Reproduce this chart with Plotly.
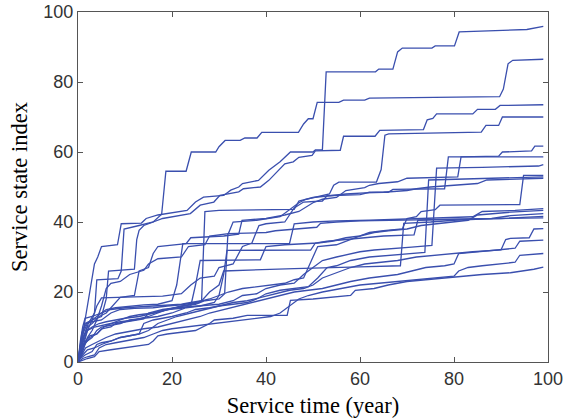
import plotly.graph_objects as go

# Degradation paths: (service time, service state index) breakpoints
path01 = [(0,0),(0.8,5),(1.5,12),(2.5,20),(3.5,28),(4.2,30),(5,33),(8.4,33.5),(9.2,39.5),(13.5,39.7),(14.5,41),(17,42),(21.8,42.9),(23.2,43.3),(25,45.7),(26.7,47.1),(31,47.6),(32.5,49.1),(34.2,50),(35,51),(38.4,51.9),(40.6,54.8),(43,57.2),(44.5,59.1),(45.2,60),(50,60),(50.5,60.6),(52,60.6),(52.8,82.9),(63.3,82.9),(64,83.7),(67,83.7),(68,88.6),(69,89.7),(75.3,89.7),(76,90.3),(80.1,90.3),(81.1,94.3),(95.5,95),(99,95.9)]
path02 = [(0,0),(1,4),(2,9),(3,12),(5,13),(6,18),(6.5,26),(10,26.2),(12,26.5),(12.5,35),(13,37.6),(14,39),(16,40),(17.8,42.2),(18.7,54.5),(23,54.5),(24.1,60),(29.3,60),(30,61.5),(31.3,63.3),(34.5,63.3),(35.5,64),(38.1,64),(39.1,65.6),(46.9,65.6),(48,68),(49,69.5),(50,69.5),(50.9,74.2),(55.5,74.2),(56.5,74.8),(61,74.8),(62,75.4),(89.7,75.8),(90.5,78),(91.5,85.2),(92.5,86.2),(99,86.5)]
path03 = [(0,0),(0.7,4),(1.4,8),(2.2,11),(3.5,14),(4,23.5),(8.5,23.8),(9.2,26),(9.8,38),(13,39),(16,40),(18,41),(21.8,42),(23.9,42.4),(26,44.8),(28.9,45.7),(30.2,47.6),(34.2,48.6),(35.2,49.5),(38.8,50),(40.6,51.9),(43,55.2),(44,56.6),(45.8,57.2),(47,58.5),(49.8,59),(50.5,60.3),(55.8,60.5),(56.5,64.5),(63.2,64.5),(64.2,66.2),(73.5,66.4),(74.3,69.2),(75.5,69.6),(76.3,70.9),(84,70.9),(85,72.2),(88.8,72.2),(89.8,73.3),(99,73.5)]
path04 = [(0,0),(1,3),(2,7),(3,9),(4,12),(5,16),(6,21),(7,22.5),(9,23),(11,25),(14,26.2),(15,28),(17,29.5),(22,30),(23.5,33),(27,33.5),(28,36),(32,36.7),(33,40),(38,40.5),(43,41.5),(44,42.5),(47,45.5),(48.5,46.5),(53.5,48),(54.4,50.5),(55.5,51.4),(63.5,51.4),(64.5,55),(65.3,64.8),(66.1,65.2),(85.8,65.7),(86.8,67.6),(89.5,67.6),(90.3,70),(99,70)]
path05 = [(0,0),(0.5,2),(1.2,7),(2,10),(3,11),(4.5,13),(6,14),(8,17),(9,18.5),(12,19),(13,26),(15,27),(16,31),(17,33),(23,33.8),(24,35.5),(31,36),(34.2,36.5),(34.9,40.5),(40,41),(44,42),(47,43),(50,45.5),(52,46.5),(55,47),(57,49),(61,49.8),(62,50.5),(64,51),(68,51.5),(70,52.5),(80.8,52.9),(81.5,58.6),(89.5,58.8),(90.3,60),(96.5,60.3),(97.2,61.7),(99,61.7)]
path06 = [(0,0),(0.5,5),(1,9),(1.8,11),(3,12),(4,16),(5,18.3),(12,18.6),(18,18.8),(22,19.5),(24,22),(26,24),(29,24.5),(30,27),(33,28),(35,33),(37,34),(38.5,39),(40,39.5),(44,40),(46,44),(48,45.7),(52,46),(53,47.5),(60,47.8),(62,48.5),(66,48.5),(67,49.3),(78,49.5),(78.8,58.6),(99,58.6)]
path07 = [(0,0),(0.8,3),(1.6,6),(2.5,7.5),(4,8),(5,9.5),(7,10),(8,11),(10,11.5),(12,12),(14,12.3),(15,14),(18,15),(21,15.5),(24,15.8),(27,16),(30,16.5),(33,17.5),(35,19),(38,19.5),(40,21),(43,22),(46,22.5),(48,25),(50,27),(52,29),(55,30),(60,31.5),(63,32),(67,32.5),(71,32.8),(75.3,33.3),(76.3,55.4),(86,55.6),(95,55.8),(98,56),(99,56.4)]
path08 = [(0,0),(0.4,4),(1,8),(2,11),(3,11.5),(5,12),(7,14),(9,15),(12,15.3),(16,15.5),(19,16),(22,16.3),(25,17),(28,18),(30,19),(32,20),(35,21),(38,21.5),(40,22),(44,22.5),(46,23.5),(48,24),(50,30),(51,33),(55,33.5),(58,35),(60,36),(62,37),(65,37.5),(69,38),(70,41),(72,41.5),(73,43),(76,43.5),(77,44.8),(94,45),(94.8,53.3),(99,53.3)]
path09 = [(0,0),(0.5,1),(1.5,2),(3,3),(4,5),(5,5.5),(7,6),(9,7),(11,7.5),(13,8),(14,11),(16,12),(18,12.5),(20,13),(23,14),(25,15),(28,15.5),(30,16),(33,16.5),(36,17),(38,18),(40,19.5),(43,20.5),(46,21),(49,21.5),(51,24),(53,27),(55,27.5),(58,29),(62,30),(66,30.5),(70,31),(73.8,31.3),(74.6,52),(85,52.3),(93,52.6),(99,52.9)]
path10 = [(0,0),(0.5,6),(1,10),(1.5,12.5),(3,13),(5,14),(7,15),(10,15.5),(13,15.8),(16,16),(19,16.2),(22,16.5),(24,17),(26.3,17.5),(27,43),(30,43.3),(46,43.6),(47,46),(50,47),(53,47.5),(57,48),(61,48.3),(65,48.5),(70,49),(72,49.5),(75,50),(78,50.3),(82,50.5),(85,51),(87,52),(93,52.3),(99,52.5)]
path11 = [(0,0),(0.3,3),(0.8,8),(1.5,11),(3,12),(4,13),(6,15),(8,15.5),(11,16),(14,16.3),(17,16.5),(20,17.5),(21,22),(22.3,33.8),(45,33.8),(46,39.5),(50,40),(55,40.3),(62,40.5),(68,40.8),(76,41),(84,41.5),(86,43),(93,43.3),(99,43.8)]
path12 = [(0,0),(0.6,2),(1.4,5),(2.5,7),(4,8),(5.5,10),(7,11),(9,11.5),(12,12),(15,13),(17,14),(19,15),(22,15.3),(24,16),(25,22),(26,29),(38.8,29.2),(40,33),(44,33.5),(51,34),(54,34.5),(57,35.5),(60,36),(63,37),(66,37.5),(70,38),(73,39),(76,39.5),(80,40),(83,40.5),(85,42),(92,42.8),(99,43.3)]
path13 = [(0,0),(0.5,4),(1.2,6),(2,9),(3,10),(4.5,11),(6,11.5),(8,12),(10,12.5),(13,13),(16,14),(19,15),(22,16),(24,16.5),(26,17),(28,20),(30,22),(31,26),(46,26.7),(52,27),(60,27.2),(68.6,27.5),(69.3,39.6),(75,40),(80,40.5),(88,41),(92,41.8),(99,42.4)]
path14 = [(0,0),(0.4,2),(1,5),(2,6),(3,7),(4,9),(5,10),(7,10.5),(9,11),(11,12),(14,12.5),(17,13),(20,14),(23,15.5),(26,16),(29,17),(30,19),(31,25),(31.7,31.9),(49.5,32),(50.5,34),(53,34.5),(57,35),(61,35.5),(65,36),(71.5,36.3),(72.3,40.5),(80,40.8),(90,41),(99,41.6)]
path15 = [(0,0),(0.5,3),(1,7),(2,9),(3.5,10),(5,10.5),(7,11),(9,12),(11,13),(13,13.5),(16,14),(19,15),(22,16),(25,16.5),(27,17.5),(30,18),(31.2,19.5),(31.9,36.7),(40,37),(42,37.5),(46,38),(50.8,38.5),(51.6,39.6),(55,40),(60,40.3),(70,40.5),(80,40.8),(90,41),(99,41.2)]
path16 = [(0,0),(0.3,1),(1,2),(2,3.5),(3.5,4),(5,5),(7,6),(9,7),(11,7.5),(13,8),(15,9),(17,11),(19,12),(21,13),(24,14),(27,15),(30,16),(33,17),(36,17.5),(39,18.5),(42,19.5),(45,20.5),(48,21),(50,22),(52,24),(55,25.5),(58,27),(61,28),(64,28.5),(68,29),(72,30),(76,30.5),(80,31),(84,31.5),(90,32),(91,35),(92,35.3),(96,35.5),(97,38),(99,38.1)]
path17 = [(0,0),(0.8,2),(1.6,4),(3,5),(4.5,6),(6,7),(8,8),(10,8.5),(12,9),(14,9.5),(17,10),(20,11),(23,12),(26,13),(28,14),(31,15),(34,16),(37,17),(40,18),(43,19),(46,20),(49,20.5),(52,21),(55,22),(58,23),(62,24),(65,24.5),(68,25),(71,26),(74,27),(78,27.5),(80,28),(81,31),(85,31.5),(89,32),(93,32.5),(94,34.5),(99,34.8)]
path18 = [(0,0),(1,1),(2,1.5),(3.5,2),(4.5,4),(6,5),(8,5.5),(10,6),(12,6.5),(14,7),(16,8),(18,9),(20,9.5),(23,10),(26,10.5),(29,11),(32,11.5),(35,12),(38,12.5),(41,13),(43,14),(45,16),(47,18),(49,19),(52,20),(56,21),(60,22),(64,22.5),(68,23),(72,23.5),(76,24),(80,24.5),(81,26),(83,27),(86,27.5),(89,28),(93,28.5),(94,30.5),(99,31)]
path19 = [(0,0),(1,0.5),(2,1),(3.5,1.5),(4.5,3),(7,3.5),(10,4),(13,4.5),(15,5),(16,6),(17,7.5),(19,8),(22,8.6),(25,9),(28,11),(29,12),(33,12.5),(36,13.3),(44.5,13.3),(45.2,17.6),(50,18),(55,18.5),(58,19),(59,20.5),(63,21),(66,22),(70,23),(74,23.5),(78,24),(81,24.5),(86,25),(92,25.5),(95,26),(97,26.5),(99,27.1)]

paths = [path01, path02, path03, path04, path05, path06, path07, path08, path09, path10,
         path11, path12, path13, path14, path15, path16, path17, path18, path19]

x_ticks = [0, 20, 40, 60, 80, 100]
y_ticks = [0, 20, 40, 60, 80, 100]

LINE_COLOR = "#3a4fae"

fig = go.Figure()
for p in paths:
    fig.add_trace(go.Scatter(
        x=[pt[0] for pt in p], y=[pt[1] for pt in p],
        mode="lines", line=dict(color=LINE_COLOR, width=1.3),
        showlegend=False, hoverinfo="skip"))

axis_common = dict(
    range=[0, 100], showgrid=False, zeroline=False, automargin=False,
    showline=True, linecolor="#555555", linewidth=1, mirror="ticks",
    ticks="inside", ticklen=5, tickwidth=1, tickcolor="#555555",
    tickfont=dict(family="Liberation Sans, Arial, sans-serif", size=18, color="#333333"),
)

fig.update_layout(
    width=571, height=420,
    margin=dict(l=78, r=23, t=12, b=58),
    paper_bgcolor="white", plot_bgcolor="white",
    xaxis=dict(**axis_common, tickvals=x_ticks,
               title=dict(text="Service time (year)", standoff=9,
                          font=dict(family="Liberation Serif, Times New Roman, serif", size=22.5, color="#000"))),
    yaxis=dict(**axis_common, tickvals=y_ticks,
               title=dict(text="Service state index", standoff=9,
                          font=dict(family="Liberation Serif, Times New Roman, serif", size=22.5, color="#000"))),
)

fig.write_html("out.html")
